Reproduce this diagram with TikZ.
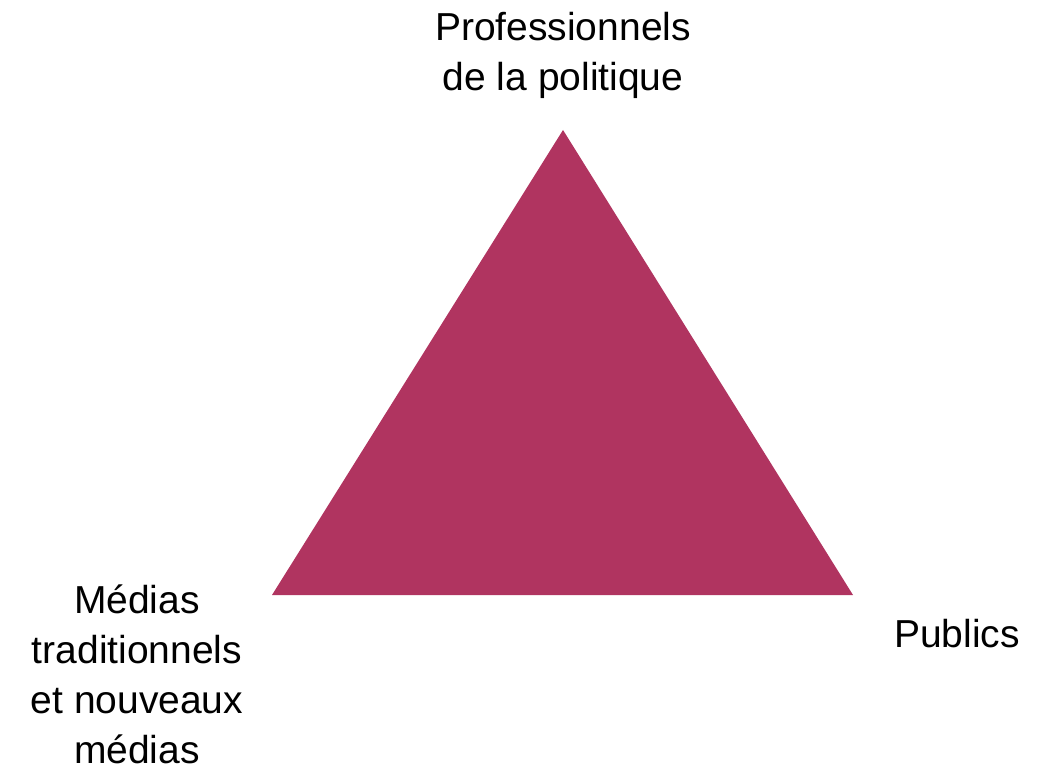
\documentclass[tikz,border=0pt]{standalone}
\usepackage{fontspec}
\setmainfont{Liberation Sans}
\definecolor{tri}{RGB}{176,52,96}
\begin{document}
\begin{tikzpicture}[x=1pt,y=-1pt,
  lbl/.style={align=center,font=\fontsize{39}{50}\selectfont,inner sep=0pt}]
\useasboundingbox (0,0) rectangle (1048,767);
\coordinate (top) at (563,130);
\coordinate (bl) at (272,595);
\coordinate (br) at (853,595);
\fill[tri] (top) -- (bl) -- (br) -- cycle;
\node[lbl] (prof) at (563,55) {Professionnels\\de la politique};
\node[lbl] (med) at (137,674) {Médias\\traditionnels\\et nouveaux\\médias};
\node[lbl] (pub) at (957,634) {Publics};
\end{tikzpicture}
\end{document}
